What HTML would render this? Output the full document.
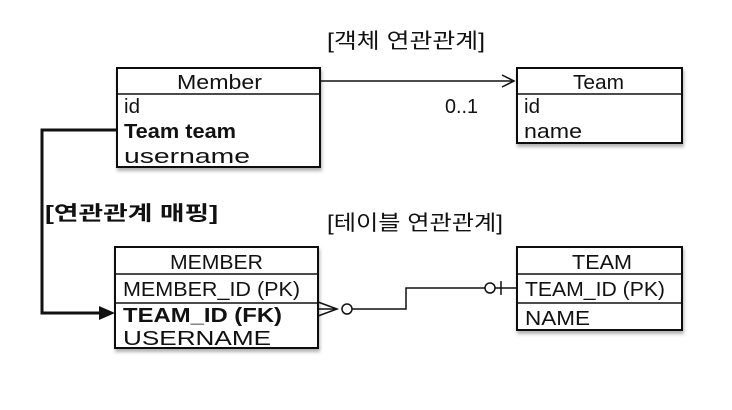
<!DOCTYPE html>
<html><head><meta charset="utf-8"><style>
html,body{margin:0;padding:0;background:#fff;}
svg{display:block;}
text{font-family:"Liberation Sans","Noto Sans CJK KR",sans-serif;fill:#111;}
</style></head><body>
<svg width="732" height="410" viewBox="0 0 732 410" xmlns="http://www.w3.org/2000/svg">
<defs><filter id="sh" x="-5%" y="-5%" width="115%" height="120%"><feDropShadow dx="1" dy="3" stdDeviation="1.5" flood-color="#000" flood-opacity="0.3"/></filter></defs>
<text x="327" y="48" font-size="21" fill="#222" textLength="158" lengthAdjust="spacingAndGlyphs">[객체 연관관계]</text>
<text x="327" y="230" font-size="21" fill="#222" textLength="176" lengthAdjust="spacingAndGlyphs">[테이블 연관관계]</text>
<text x="45" y="220" font-size="20" font-weight="bold" textLength="173" lengthAdjust="spacingAndGlyphs">[연관관계 매핑]</text>

<!-- Member -->
<rect x="117" y="68" width="203" height="99" fill="#fff" stroke="#111" stroke-width="2" filter="url(#sh)"/>
<line x1="117" y1="94" x2="320" y2="94" stroke="#111" stroke-width="1.5"/>
<text x="177" y="89" font-size="20" textLength="85" lengthAdjust="spacingAndGlyphs">Member</text>
<text x="124" y="113" font-size="20" fill="#333" textLength="16" lengthAdjust="spacingAndGlyphs">id</text>
<text x="124" y="138" font-size="20" font-weight="bold" textLength="112" lengthAdjust="spacingAndGlyphs">Team team</text>
<text x="124" y="163" font-size="20" fill="#333" textLength="126" lengthAdjust="spacingAndGlyphs">username</text>

<!-- Team -->
<rect x="517" y="68" width="165" height="75" fill="#fff" stroke="#111" stroke-width="2" filter="url(#sh)"/>
<line x1="517" y1="94" x2="682" y2="94" stroke="#111" stroke-width="1.5"/>
<text x="573" y="89" font-size="20" textLength="51" lengthAdjust="spacingAndGlyphs">Team</text>
<text x="524" y="113" font-size="20" fill="#333" textLength="16" lengthAdjust="spacingAndGlyphs">id</text>
<text x="524" y="138" font-size="20" fill="#333" textLength="58" lengthAdjust="spacingAndGlyphs">name</text>

<line x1="320" y1="81" x2="514" y2="81" stroke="#111" stroke-width="1.5"/>
<polyline points="502,75 514,81 502,87" fill="none" stroke="#111" stroke-width="1.5"/>
<text x="445" y="113" font-size="20" fill="#333" textLength="33" lengthAdjust="spacingAndGlyphs">0..1</text>

<!-- MEMBER -->
<rect x="115" y="247" width="203" height="101" fill="#fff" stroke="#111" stroke-width="2" filter="url(#sh)"/>
<line x1="115" y1="274" x2="318" y2="274" stroke="#111" stroke-width="1.5"/>
<line x1="115" y1="303" x2="318" y2="303" stroke="#111" stroke-width="1.5"/>
<text x="170" y="269" font-size="20" textLength="93" lengthAdjust="spacingAndGlyphs">MEMBER</text>
<text x="123" y="296" font-size="20" fill="#333" textLength="177" lengthAdjust="spacingAndGlyphs">MEMBER_ID (PK)</text>
<text x="123" y="322" font-size="20" font-weight="bold" textLength="159" lengthAdjust="spacingAndGlyphs">TEAM_ID (FK)</text>
<text x="123" y="345" font-size="20" fill="#333" textLength="148" lengthAdjust="spacingAndGlyphs">USERNAME</text>

<!-- TEAM -->
<rect x="517" y="247" width="165" height="83" fill="#fff" stroke="#111" stroke-width="2" filter="url(#sh)"/>
<line x1="517" y1="274" x2="682" y2="274" stroke="#111" stroke-width="1.5"/>
<line x1="517" y1="303" x2="682" y2="303" stroke="#111" stroke-width="1.5"/>
<text x="572" y="269" font-size="20" textLength="60" lengthAdjust="spacingAndGlyphs">TEAM</text>
<text x="525" y="296" font-size="20" fill="#333" textLength="140" lengthAdjust="spacingAndGlyphs">TEAM_ID (PK)</text>
<text x="525" y="325" font-size="20" fill="#333" textLength="65" lengthAdjust="spacingAndGlyphs">NAME</text>

<!-- crow's foot -->
<polyline points="318,302 337,309 318,316" fill="none" stroke="#111" stroke-width="1.5"/>
<line x1="318" y1="309" x2="337" y2="309" stroke="#111" stroke-width="1.5"/>
<circle cx="347" cy="309" r="5" fill="#fff" stroke="#111" stroke-width="1.5"/>
<polyline points="352,309 406,309 406,288 485,288" fill="none" stroke="#111" stroke-width="1.5"/>
<circle cx="490" cy="288" r="5" fill="#fff" stroke="#111" stroke-width="1.5"/>
<line x1="495" y1="288" x2="517" y2="288" stroke="#111" stroke-width="1.5"/>
<line x1="501" y1="281" x2="501" y2="295" stroke="#111" stroke-width="1.5"/>

<!-- mapping -->
<polyline points="117,130 42,130 42,313 104,313" fill="none" stroke="#111" stroke-width="3"/>
<polygon points="115,313 99,306 99,320" fill="#111"/>
</svg>
</body></html>
